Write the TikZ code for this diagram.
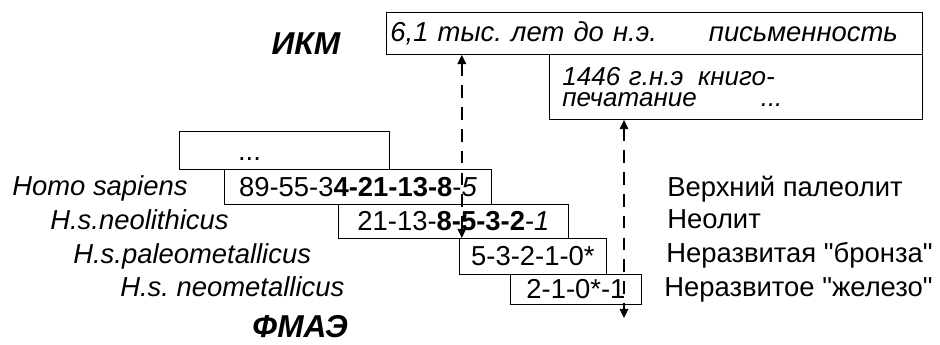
\documentclass[tikz,border=0pt]{standalone}
\usepackage{fontspec}
\setmainfont{Liberation Sans}[Ligatures=TeXOff]
\usetikzlibrary{arrows.meta}
\frenchspacing

\begin{document}
\begin{tikzpicture}[x=0.025cm, y=-0.025cm, font=\fontsize{19.5}{22}\selectfont,
	>={Triangle[length=6.5pt,width=6pt]},
	box/.style={draw, line width=0.6pt, anchor=north west, inner sep=0pt},
	lbl/.style={anchor=base west, inner sep=0pt},
	era/.style={inner sep=0pt, font=\fontsize{22.5}{24}\selectfont\bfseries\itshape},
	arr/.style={<->, line width=1.1pt, dash pattern=on 9pt off 6.5pt}]
	\useasboundingbox (0,0) rectangle (940,344);
	\node[era] (ikmlbl) at (306,44) {ИКМ};
	\node[era] (fmae) at (300,327) {ФМАЭ};
	% top boxes
	\node[box, minimum height=1.05cm, text width=13.2cm, align=left, inner xsep=0.1cm] (ikm) at (386,12) {\itshape 6,1 тыс. лет до н.э.\hspace{1.3cm}письменность};
	\node[box, minimum height=1.625cm, text width=8.675cm, align=left, inner xsep=0.325cm, font=\fontsize{18.5}{13}\selectfont\itshape] (print) at (549,54) {1446 г.н.э\hspace{0.15cm} книго-\\[1.5pt]печатание\hspace{1.6cm}...};
	% rows
	\node[box, minimum width=5.25cm, minimum height=0.95cm, text height=15pt, text depth=0pt] (dots) at (179,131) {...\hspace*{1.75cm}};
	\node[box, minimum width=6.675cm, minimum height=0.875cm] (hs) at (224,169) {89-55-3\textbf{4-21-13-8}-\textit{5}};
	\node[box, minimum width=5.75cm, minimum height=0.85cm] (neo) at (338,204) {21-13-\textbf{8-5-3-2}-\textit{1}};
	\node[box, minimum width=3.675cm, minimum height=0.9cm] (paleo) at (459,238) {5-3-2-1-0*};
	\node[box, minimum width=3.275cm, minimum height=0.75cm] (neomet) at (510,274) {2-1-0*-1};
	% names
	\node[lbl] (hsname) at (12,195) {\itshape Homo sapiens};
	\node[lbl] (neoname) at (50,229) {\itshape H.s.neolithicus};
	\node[lbl] (paleoname) at (73,263) {\itshape H.s.paleometallicus};
	\node[lbl] (neometname) at (120,296) {\itshape H.s. neometallicus};
	\node[lbl] (upper) at (667,196) {Верхний палеолит};
	\node[lbl] (neolit) at (667,228) {Неолит};
	\node[lbl] (bronze) at (666,262) {Неразвитая "бронза"};
	\node[lbl] (iron) at (664,296) {Неразвитое "железо"};
	% arrows
	\coordinate (bot) at ([xshift=2pt]paleo.north west);
	\draw[arr] (ikm.south -| bot) -- (bot);
	\coordinate (fin) at (624,318);
	\draw[arr] (print.south -| fin) -- (fin);
\end{tikzpicture}
\end{document}
